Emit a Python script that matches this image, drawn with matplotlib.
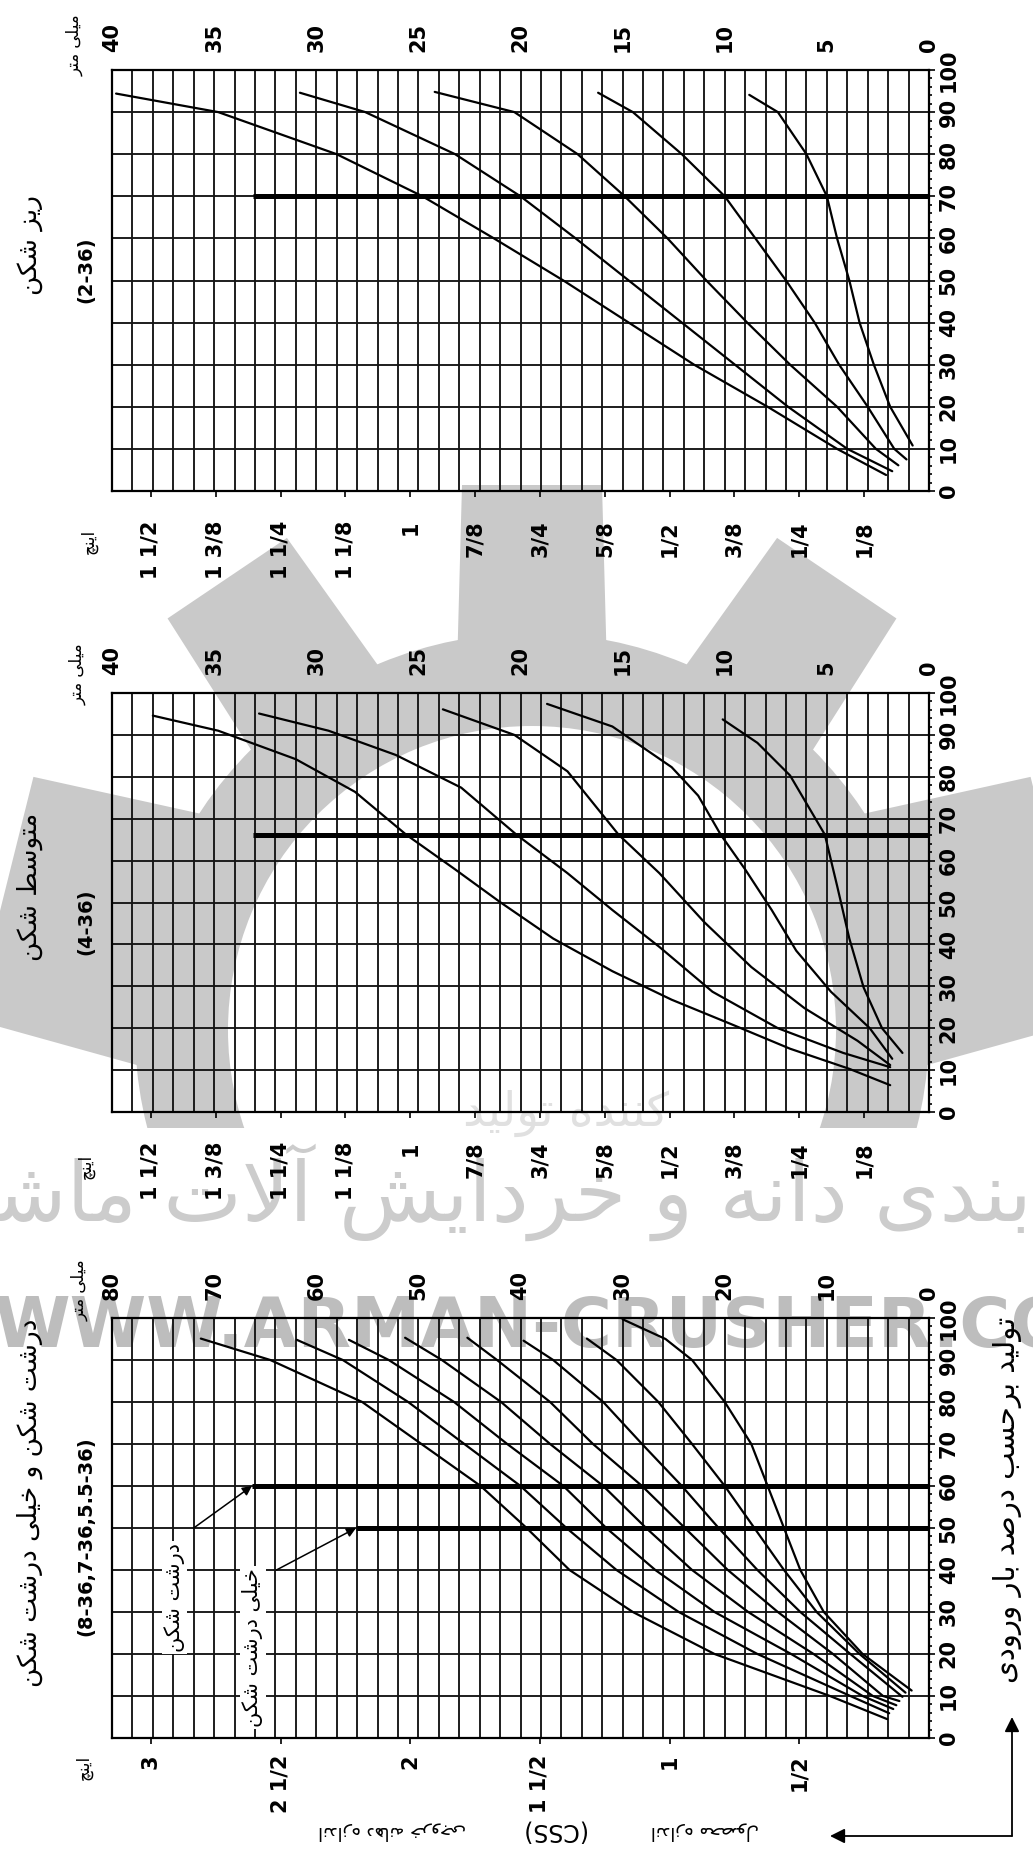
import numpy as np
import matplotlib
matplotlib.use("Agg")
import matplotlib.pyplot as plt
from matplotlib.patches import Wedge, Polygon, Rectangle

# ---------------------------------------------------------------- data
# percent of feed (vertical axis) and product size in mm (horizontal axis)
# fine crusher (2-36)
fine_pct = [
    [94.4, 90, 80, 70, 60, 50, 40, 30, 20, 10, 3.8],
    [94.6, 90, 80, 70, 60, 50, 40, 30, 20, 10, 4.7],
    [94.8, 90, 80, 70, 60, 50, 40, 30, 20, 10, 6.1],
    [94.6, 90, 80, 70, 60, 50, 40, 30, 20, 10, 7.5],
    [94.1, 90, 80, 70, 60, 50, 40, 30, 20, 10.8],
]
fine_mm = [
    [39.8, 34.8, 29.0, 24.8, 21.3, 17.9, 14.7, 11.5, 7.9, 4.5, 2.1],
    [30.8, 27.6, 23.2, 20.0, 17.3, 14.7, 12.1, 9.5, 6.9, 4.0, 1.8],
    [24.2, 20.3, 17.2, 14.9, 12.8, 10.9, 8.9, 6.8, 4.5, 2.6, 1.5],
    [16.2, 14.5, 12.1, 10.0, 8.5, 7.0, 5.6, 4.4, 3.0, 1.7, 1.1],
    [8.8, 7.4, 6.0, 5.0, 4.5, 3.9, 3.4, 2.7, 1.9, 0.8],
]
fine_ref_pct = [70]
fine_ref_start_mm = [33.1]

# medium crusher (4-36)
med_pct = [
    [94.6, 91, 84.2, 76.4, 66.2, 57.9, 50.1, 41.4, 33.6, 26.8, 21, 15.1, 10.3, 6.4],
    [95.1, 91, 85.2, 77.4, 66.2, 57, 48.2, 39.4, 28.7, 20, 14.1, 10.7],
    [96.1, 90, 81.3, 66.2, 57, 45.3, 34.6, 24.8, 17, 11.2],
    [97.4, 92, 82.3, 75.5, 66.2, 57.9, 48.2, 38.5, 28.7, 20, 12.7],
    [93.7, 88.1, 80.3, 66.2, 54, 41.4, 29.7, 20, 14.1],
]
med_mm = [
    [38.0, 34.8, 31.0, 28.1, 25.6, 23.2, 21.0, 18.4, 15.5, 12.6, 9.7, 6.8, 3.9, 1.9],
    [32.8, 29.4, 26.1, 22.9, 20.2, 17.7, 15.5, 13.2, 10.6, 7.4, 4.2, 1.9],
    [23.8, 20.3, 17.7, 15.2, 13.2, 11.0, 8.7, 6.1, 3.5, 1.9],
    [18.7, 15.5, 12.6, 11.3, 10.2, 9.0, 7.7, 6.5, 4.8, 2.9, 1.8],
    [10.1, 8.4, 6.8, 5.1, 4.5, 3.9, 3.2, 2.3, 1.3],
]
med_ref_pct = [66]
med_ref_start_mm = [33.1]

# coarse and extra coarse crusher (8-36, 7-36, 5.5-36)
coarse_pct = [
    [95.1, 90, 80, 70, 60, 50, 40, 30, 20, 10, 4.5],
    [94.8, 90, 80, 70, 60, 50, 40, 30, 20, 10, 5.9],
    [94.8, 90, 80, 70, 60, 50, 40, 30, 20, 10, 6.9],
    [95.3, 90, 80, 70, 60, 50, 40, 30, 20, 10, 7.8],
    [95.3, 90, 80, 70, 60, 50, 40, 30, 20, 10, 8.8],
    [94.6, 90, 80, 70, 60, 50, 40, 30, 20, 9.8],
    [95.1, 90, 80, 70, 60, 50, 40, 30, 20, 10.8],
    [99.7, 95, 90, 80, 70, 60, 50, 40, 30, 20, 11.3],
]
coarse_mm = [
    [71.3, 64.5, 55.5, 49.7, 43.9, 39.4, 35.2, 29.0, 21.0, 9.7, 4.1],
    [61.9, 57.4, 51.0, 45.5, 40.0, 35.5, 30.6, 24.5, 16.8, 7.7, 3.9],
    [56.8, 52.9, 46.5, 41.3, 35.8, 31.6, 26.8, 21.0, 13.5, 6.5, 3.5],
    [51.3, 47.7, 41.9, 37.1, 31.9, 27.7, 23.2, 17.7, 11.3, 5.5, 3.2],
    [45.2, 42.3, 37.1, 32.9, 28.1, 23.9, 19.7, 14.8, 9.4, 4.5, 2.9],
    [39.7, 36.8, 31.9, 28.1, 24.2, 20.6, 16.8, 12.6, 7.7, 2.6],
    [33.5, 30.6, 26.5, 23.2, 20.0, 17.1, 14.2, 11.0, 6.8, 2.3],
    [30.0, 25.8, 23.2, 20.0, 17.4, 15.8, 14.2, 12.6, 10.3, 6.5, 1.7],
]
coarse_ref_pct = [60, 50]
coarse_ref_start_mm = [66.3, 56.1]
coarse_ref_labels = ["درشت شکن", "خیلی درشت شکن"]
coarse_label_mm = [73.9, 66.2]
coarse_label_pct = [33.5, 21.5]
coarse_arrow_tail_mm = [72.0, 63.9]
coarse_arrow_tail_pct = [50.0, 40.0]

# axis tick labels
small_inch_labels = ["1 1/2", "1 3/8", "1 1/4", "1 1/8", "1", "7/8", "3/4", "5/8", "1/2", "3/8", "1/4", "1/8"]
small_inch_values = [1.5, 1.375, 1.25, 1.125, 1.0, 0.875, 0.75, 0.625, 0.5, 0.375, 0.25, 0.125]
large_inch_labels = ["3", "2 1/2", "2", "1 1/2", "1", "1/2"]
large_inch_values = [3.0, 2.5, 2.0, 1.5, 1.0, 0.5]
small_mm_ticks = [40, 35, 30, 25, 20, 15, 10, 5, 0]
large_mm_ticks = [80, 70, 60, 50, 40, 30, 20, 10, 0]
pct_ticks = [0, 10, 20, 30, 40, 50, 60, 70, 80, 90, 100]

titles = ["ریز شکن", "متوسط شکن", "درشت شکن و خیلی درشت شکن"]
subtitles = ["(2-36)", "(4-36)", "(8-36,7-36,5.5-36)"]
unit_mm = "میلی متر"
unit_inch = "اینچ"
right_label = "تولید برحسب درصد بار ورودی"
bottom_caption = ["اندازه دهانه خروجی", "(CSS)", "اندازه محصول"]
wm_texts = ["تولید کننده", "ماشین آلات خردایش و دانه بندی", "WWW.ARMAN-CRUSHER.COM"]

# ---------------------------------------------------------------- persian shaping
FORMS = {
    'ا': ('\uFE8D', '\uFE8E', None, None), 'آ': ('\uFE81', '\uFE82', None, None),
    'ب': ('\uFE8F', '\uFE90', '\uFE91', '\uFE92'), 'پ': ('\uFB56', '\uFB57', '\uFB58', '\uFB59'),
    'ت': ('\uFE95', '\uFE96', '\uFE97', '\uFE98'), 'ث': ('\uFE99', '\uFE9A', '\uFE9B', '\uFE9C'),
    'ج': ('\uFE9D', '\uFE9E', '\uFE9F', '\uFEA0'), 'چ': ('\uFB7A', '\uFB7B', '\uFB7C', '\uFB7D'),
    'ح': ('\uFEA1', '\uFEA2', '\uFEA3', '\uFEA4'), 'خ': ('\uFEA5', '\uFEA6', '\uFEA7', '\uFEA8'),
    'د': ('\uFEA9', '\uFEAA', None, None), 'ذ': ('\uFEAB', '\uFEAC', None, None),
    'ر': ('\uFEAD', '\uFEAE', None, None), 'ز': ('\uFEAF', '\uFEB0', None, None),
    'ژ': ('\uFB8A', '\uFB8B', None, None),
    'س': ('\uFEB1', '\uFEB2', '\uFEB3', '\uFEB4'), 'ش': ('\uFEB5', '\uFEB6', '\uFEB7', '\uFEB8'),
    'ص': ('\uFEB9', '\uFEBA', '\uFEBB', '\uFEBC'), 'ض': ('\uFEBD', '\uFEBE', '\uFEBF', '\uFEC0'),
    'ط': ('\uFEC1', '\uFEC2', '\uFEC3', '\uFEC4'), 'ظ': ('\uFEC5', '\uFEC6', '\uFEC7', '\uFEC8'),
    'ع': ('\uFEC9', '\uFECA', '\uFECB', '\uFECC'), 'غ': ('\uFECD', '\uFECE', '\uFECF', '\uFED0'),
    'ف': ('\uFED1', '\uFED2', '\uFED3', '\uFED4'), 'ق': ('\uFED5', '\uFED6', '\uFED7', '\uFED8'),
    'ک': ('\uFB8E', '\uFB8F', '\uFB90', '\uFB91'), 'گ': ('\uFB92', '\uFB93', '\uFB94', '\uFB95'),
    'ل': ('\uFEDD', '\uFEDE', '\uFEDF', '\uFEE0'), 'م': ('\uFEE1', '\uFEE2', '\uFEE3', '\uFEE4'),
    'ن': ('\uFEE5', '\uFEE6', '\uFEE7', '\uFEE8'), 'ه': ('\uFEE9', '\uFEEA', '\uFEEB', '\uFEEC'),
    'و': ('\uFEED', '\uFEEE', None, None), 'ی': ('\uFBFC', '\uFBFD', '\uFBFE', '\uFBFF'),
}


def fa(s):
    ch = list(s)
    n = len(ch)
    res = []
    i = 0

    def jf(c):
        return c in FORMS and FORMS[c][2] is not None

    while i < n:
        c = ch[i]
        if c in FORMS:
            pj = i > 0 and jf(ch[i - 1])
            if c == 'ل' and i + 1 < n and ch[i + 1] in ('ا', 'آ'):
                lig = ('\uFEFB', '\uFEFC') if ch[i + 1] == 'ا' else ('\uFEF5', '\uFEF6')
                res.append(lig[1] if pj else lig[0])
                i += 2
                continue
            nj = i + 1 < n and ch[i + 1] in FORMS and jf(c)
            iso, fin, ini, med = FORMS[c]
            if pj and nj:
                res.append(med)
            elif pj:
                res.append(fin)
            elif nj:
                res.append(ini)
            else:
                res.append(iso)
        else:
            res.append(c)
        i += 1
    return ''.join(reversed(res))


def fa_ltr_words(s):
    # the watermark in the source keeps its words in left-to-right order
    return ' '.join(fa(w) for w in s.split(' '))


# ---------------------------------------------------------------- figure
W, H = 1033, 1859
fig = plt.figure(figsize=(W / 100, H / 100), dpi=100)
fig.patch.set_facecolor("white")

NUM = dict(family=["Liberation Sans Narrow", "DejaVu Sans"], fontweight="bold")
FAF = dict(family=["DejaVu Sans"])

bg = fig.add_axes([0, 0, 1, 1], zorder=-5)
bg.set_xlim(0, W)
bg.set_ylim(H, 0)
bg.axis("off")

# --- watermark gear (decoration)
GEAR_C = np.array([532, 1030])
clip = Rectangle((0, 0), W, 1128, transform=bg.transData)
gcol = "#c9c9c9"
ring = Wedge(tuple(GEAR_C), 397, 0, 360, width=93, facecolor=gcol, edgecolor="none")
bg.add_patch(ring)
ring.set_clip_path(clip)
for ang, hw in [(14, 125), (56, 72), (90, 70), (124, 72), (166, 125)]:
    a = np.deg2rad(ang)
    d = np.array([np.cos(a), -np.sin(a)])
    nrm = np.array([np.sin(a), np.cos(a)])
    pts = [GEAR_C + d * 360 + nrm * (hw + 5), GEAR_C + d * 545 + nrm * hw,
           GEAR_C + d * 545 - nrm * hw, GEAR_C + d * 360 - nrm * (hw + 5)]
    tooth = Polygon(pts, closed=True, facecolor=gcol, edgecolor="none")
    bg.add_patch(tooth)
    tooth.set_clip_path(clip)

bg.text(566, 1113, fa_ltr_words(wm_texts[0]), color="#e0e0e0", fontsize=34, ha="center", va="center", **FAF)
bg.text(470, 1192, fa_ltr_words(wm_texts[1]), color="#cccccc", fontsize=60, ha="center", va="center", **FAF)
bg.text(-6, 1327, wm_texts[2], color="#bdbdbd", fontsize=50, ha="left", va="center",
        family="DejaVu Sans", fontweight="bold")

# --- panels
panels = [
    dict(box=(112, 70, 929, 491), xmax=40, xgrid=1, mmt=small_mm_ticks, inl=small_inch_labels,
         inv=small_inch_values, P=fine_pct, M=fine_mm, rp=fine_ref_pct, rs=fine_ref_start_mm, lpad=17),
    dict(box=(112, 693, 929, 1112), xmax=40, xgrid=1, mmt=small_mm_ticks, inl=small_inch_labels,
         inv=small_inch_values, P=med_pct, M=med_mm, rp=med_ref_pct, rs=med_ref_start_mm, lpad=17),
    dict(box=(112, 1318, 929, 1738), xmax=80, xgrid=2, mmt=large_mm_ticks, inl=large_inch_labels,
         inv=large_inch_values, P=coarse_pct, M=coarse_mm, rp=coarse_ref_pct, rs=coarse_ref_start_mm, lpad=8),
]

axes = []
for p in panels:
    x0, y0, x1, y1 = p["box"]
    ax = fig.add_axes([x0 / W, 1 - y1 / H, (x1 - x0) / W, (y1 - y0) / H])
    ax.set_facecolor("none")
    ax.set_xlim(p["xmax"], 0)
    ax.set_ylim(0, 100)
    ax.set_xticks(np.arange(0, p["xmax"] + 0.01, p["xgrid"]))
    ax.set_yticks(pct_ticks)
    ax.set_yticks(np.arange(0, 101, 2), minor=True)
    ax.grid(True, which="major", color="#151515", lw=1.35)
    ax.tick_params(axis="x", length=0, labelbottom=False)
    ax.yaxis.tick_right()
    ax.tick_params(axis="y", which="major", length=4, width=1.2, direction="out",
                   labelrotation=90, pad=3, labelsize=15)
    ax.tick_params(axis="y", which="minor", length=2.5, width=1.2, direction="out")
    for lab in ax.get_yticklabels():
        lab.set_family(NUM["family"])
        lab.set_fontweight("bold")
        lab.set_va("center")
    for s in ax.spines.values():
        s.set_linewidth(1.6)
        s.set_color("black")

    for pc, mm in zip(p["P"], p["M"]):
        ax.plot(mm, pc, color="black", lw=1.6, solid_capstyle="round", solid_joinstyle="round", zorder=3)
    for rp, rs in zip(p["rp"], p["rs"]):
        ax.plot([rs, 0], [rp, rp], color="black", lw=3.6, solid_capstyle="butt", zorder=4, clip_on=False)

    top = ax.secondary_xaxis("top")
    top.set_xticks(p["mmt"])
    top.set_xticklabels([str(v) for v in p["mmt"]])
    top.tick_params(length=0, pad=13, labelrotation=90, labelsize=15)
    top.spines["top"].set_visible(False)
    for lab in top.get_xticklabels():
        lab.set_family(NUM["family"])
        lab.set_fontweight("bold")

    bot = ax.secondary_xaxis("bottom")
    bot.set_xticks([v * 25.4 for v in p["inv"]])
    bot.set_xticklabels(p["inl"])
    bot.tick_params(length=4, width=1.2, direction="out", pad=p["lpad"], labelrotation=90, labelsize=15)
    bot.spines["bottom"].set_visible(False)
    for lab in bot.get_xticklabels():
        lab.set_family(NUM["family"])
        lab.set_fontweight("bold")
    axes.append(ax)

# coarse-panel annotations
axc = axes[2]
for txt, lm, lp, tm, tp, rp, rs in zip(coarse_ref_labels, coarse_label_mm, coarse_label_pct,
                                         coarse_arrow_tail_mm, coarse_arrow_tail_pct,
                                         coarse_ref_pct, coarse_ref_start_mm):
    axc.annotate("", xy=(rs, rp), xytext=(tm, tp),
                 arrowprops=dict(arrowstyle="-|>", lw=1.1, color="black", mutation_scale=14,
                                 shrinkA=0, shrinkB=0), zorder=5)
    axc.text(lm, lp, fa(txt), rotation=90, ha="center", va="center", fontsize=15,
             bbox=dict(facecolor="white", edgecolor="none", pad=1.5), zorder=6, **FAF)

# titles and units
title_pos = [(30, 245), (30, 887), (30, 1503)]
sub_pos = [(86, 270), (86, 922), (86, 1536)]
mm_unit_pos = [(75, 45), (78, 674), (80, 1290)]
inch_unit_pos = [(89, 541), (86, 1166), (84, 1767)]
for t, s, tp, sp, mp, ip in zip(titles, subtitles, title_pos, sub_pos, mm_unit_pos, inch_unit_pos):
    bg.text(tp[0], tp[1], fa(t), rotation=90, ha="center", va="center", fontsize=19, **FAF)
    bg.text(sp[0], sp[1], s, rotation=90, ha="center", va="center", fontsize=14, **NUM)
    bg.text(mp[0], mp[1], fa(unit_mm), rotation=90, ha="center", va="center", fontsize=12, **FAF)
    bg.text(ip[0], ip[1], fa(unit_inch), rotation=90, ha="center", va="center", fontsize=12, **FAF)

bg.text(1008, 1500, fa(right_label), rotation=90, ha="center", va="center", fontsize=21, **FAF)
cap_x = [392, 553, 705]
for i, (cx, t) in enumerate(zip(cap_x, bottom_caption)):
    if i == 1:
        bg.text(cx, 1831, t, rotation=180, ha="center", va="center", fontsize=17, family="DejaVu Sans")
    else:
        bg.text(cx, 1831, fa(t), rotation=180, ha="center", va="center", fontsize=13, **FAF)

# L-shaped arrows at the bottom right
bg.annotate("", xy=(1012, 1717), xytext=(1012, 1836),
            arrowprops=dict(arrowstyle="-|>", lw=1.3, color="black", mutation_scale=22, shrinkA=0, shrinkB=0))
bg.annotate("", xy=(830, 1836), xytext=(1012, 1836),
            arrowprops=dict(arrowstyle="-|>", lw=1.3, color="black", mutation_scale=22, shrinkA=0, shrinkB=0))

fig.savefig("out.png", dpi=100, facecolor="white")
